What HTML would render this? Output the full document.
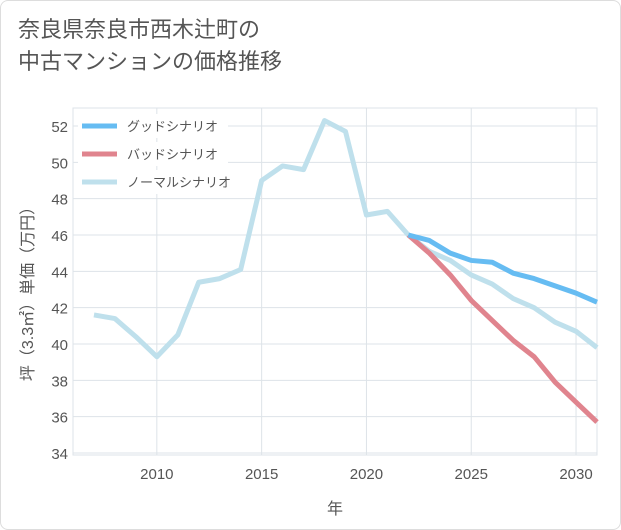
<!DOCTYPE html>
<html><head><meta charset="utf-8"><style>
body{margin:0;background:#fff;font-family:"Liberation Sans","Noto Sans CJK JP",sans-serif;}
#card{position:absolute;left:0;top:0;width:619px;height:528px;border:1px solid #ddd;border-radius:8px;background:#fff;}
#title{position:absolute;left:18px;top:14px;font-size:22px;line-height:32px;color:#555;}
svg text{font-family:"Liberation Sans","Noto Sans CJK JP",sans-serif;}
</style></head><body>
<div id="card"></div>
<div id="title">奈良県奈良市西木辻町の<br>中古マンションの価格推移</div>
<svg id="chart" width="621" height="530" style="position:absolute;left:0;top:0"></svg>
<script>
const years=[2007,2008,2009,2010,2011,2012,2013,2014,2015,2016,2017,2018,2019,2020,2021,2022,2023,2024,2025,2026,2027,2028,2029,2030,2031];
const normal=[41.6,41.4,40.4,39.3,40.5,43.4,43.6,44.1,49.0,49.8,49.6,52.3,51.7,47.1,47.3,46.0,45.1,44.6,43.8,43.3,42.5,42.0,41.2,40.7,39.8];
const goodYears=[2022,2023,2024,2025,2026,2027,2028,2029,2030,2031];
const good=[46.0,45.7,45.0,44.6,44.5,43.9,43.6,43.2,42.8,42.3];
const bad=[46.0,45.0,43.8,42.4,41.3,40.2,39.3,37.9,36.8,35.7];
const xTicks=[2010,2015,2020,2025,2030];
const yTicks=[34,36,38,40,42,44,46,48,50,52];
const L=73,R=597,T=108,B=455;
const x=v=>L+(v-2006)*(R-L)/25;
const y=v=>453-(v-34)*(453-126)/18;
const svg=document.getElementById('chart');
const NS='http://www.w3.org/2000/svg';
function mk(t,a){const e=document.createElementNS(NS,t);for(const k in a)e.setAttribute(k,a[k]);svg.appendChild(e);return e;}
for(const t of xTicks){const l=mk('line',{x1:x(t),x2:x(t),y1:T,y2:B,stroke:'#dde3e8','stroke-width':1});


const tx=mk('text',{x:x(t),y:B+24,'text-anchor':'middle','font-size':15,fill:'#555'});tx.textContent=t;

}
for(const t of yTicks){const l=mk('line',{x1:L,x2:R,y1:y(t),y2:y(t),stroke:'#dde3e8','stroke-width':1});


const tx=mk('text',{x:L-5,y:y(t)+6,'text-anchor':'end','font-size':15,fill:'#555'});tx.textContent=t;

}
const frame=mk('rect',{x:L,y:T,width:R-L,height:B-T,fill:'none',stroke:'#dde3e8'});


function line(xs,vs,c,n){const p=mk('polyline',{points:xs.map((v,i)=>x(v)+','+y(vs[i])).join(' '),fill:'none',stroke:c,'stroke-width':5,'stroke-linejoin':'round'});

}
line(years,normal,'#bfe0ec','normal-scenario-line');
line(goodYears,bad,'#e0848e','bad-scenario-line');
line(goodYears,good,'#66bcf2','good-scenario-line');
const legend=[['グッドシナリオ','#66bcf2'],['バッドシナリオ','#e0848e'],['ノーマルシナリオ','#bfe0ec']];
legend.forEach((d,i)=>{const yy=126+i*28;
const bg=mk('rect',{x:78,y:yy-12,width:150,height:24,fill:'#fff'});


const s=mk('line',{x1:82,x2:117,y1:yy,y2:yy,stroke:d[1],'stroke-width':5});


const t=mk('text',{x:127,y:yy+5,'font-size':13,fill:'#555'});t.textContent=d[0];

});
const xt=mk('text',{x:335,y:514,'text-anchor':'middle','font-size':16,fill:'#555'});xt.textContent='年';


const yt=mk('text',{x:0,y:0,'text-anchor':'middle','font-size':16,fill:'#555',transform:'translate(33,290) rotate(-90)'});yt.textContent='坪（3.3㎡）単価（万円）';


</script>
</body></html>
